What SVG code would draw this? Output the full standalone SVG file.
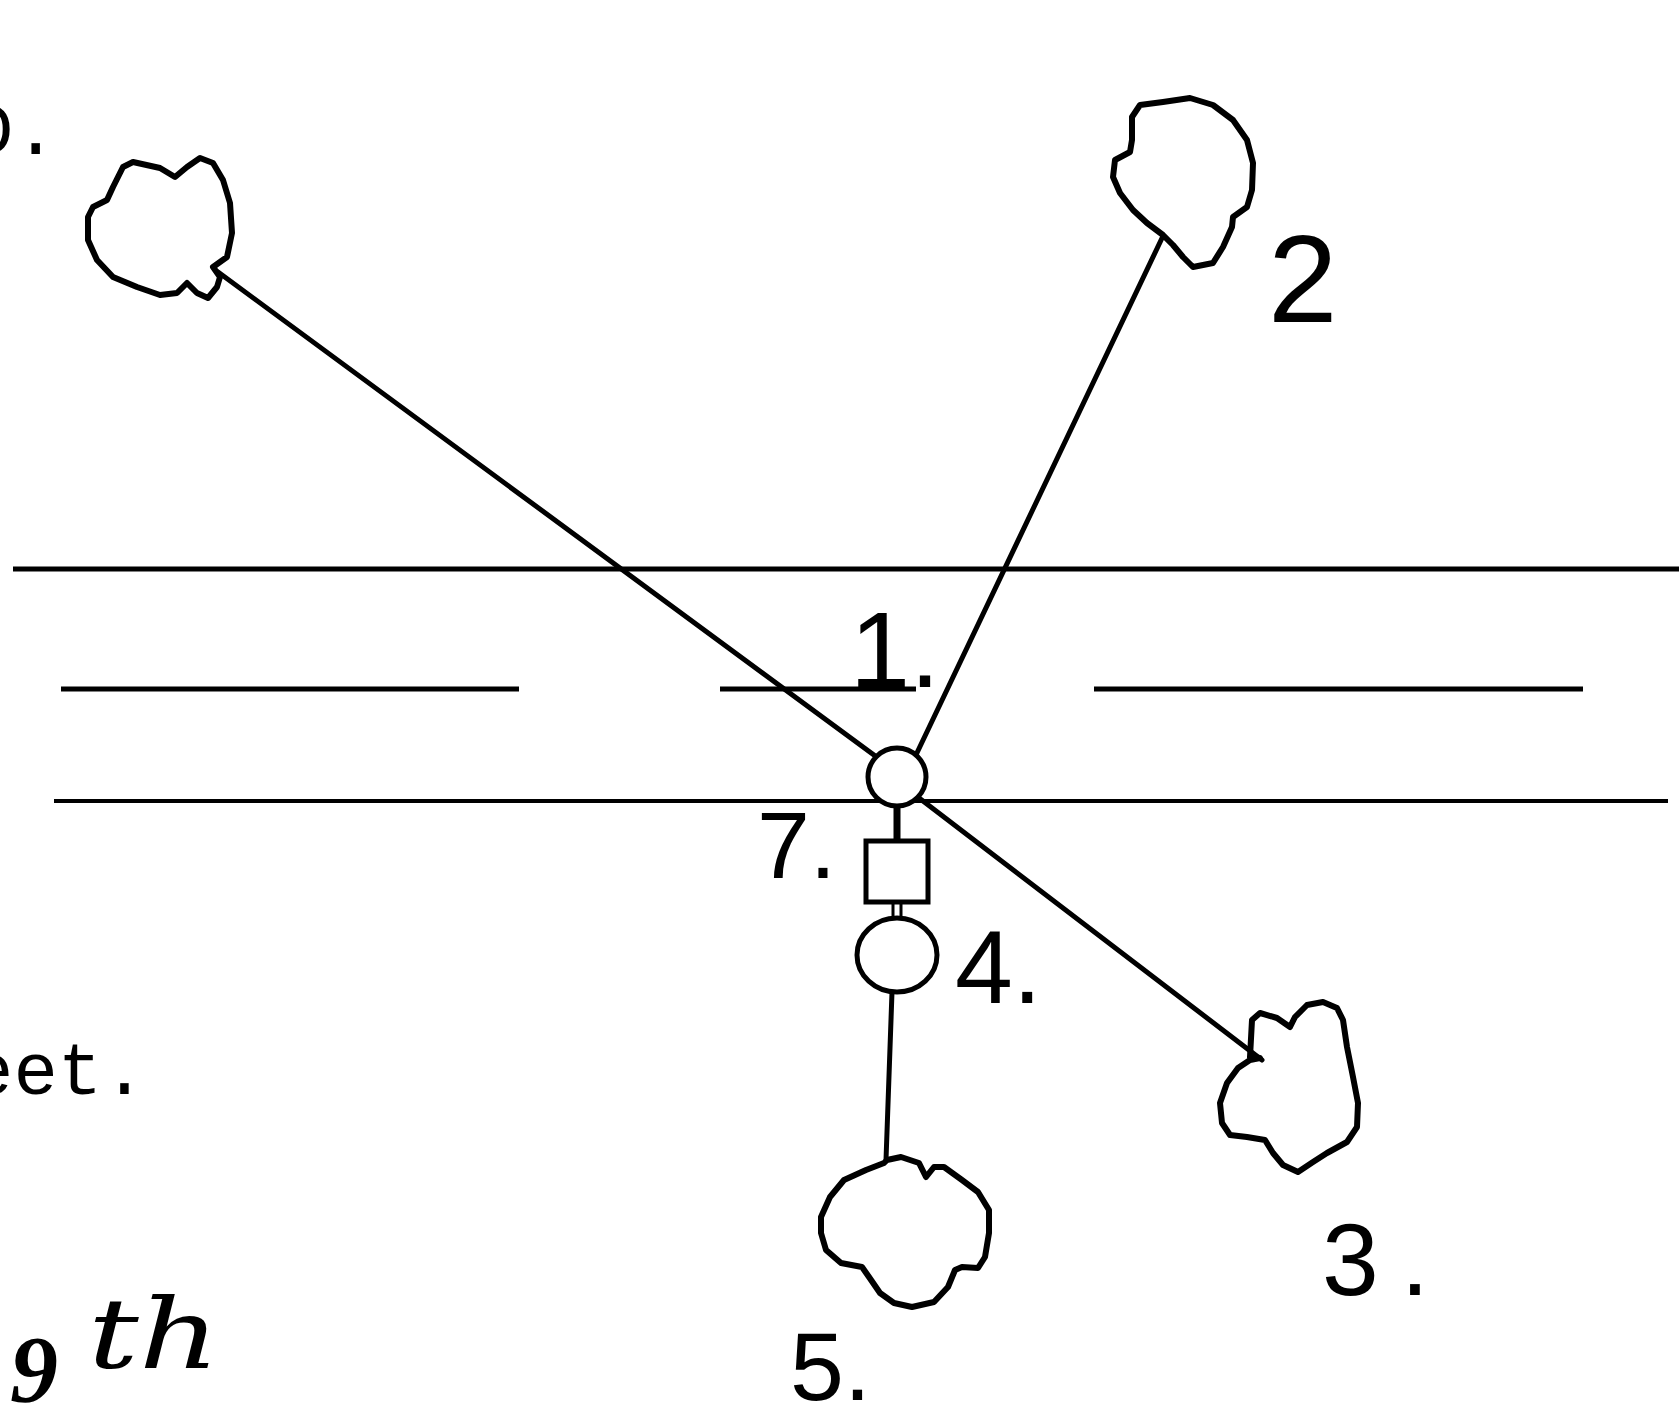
<svg xmlns="http://www.w3.org/2000/svg" width="1679" height="1417" viewBox="0 0 1679 1417">
<style>
.blob{fill:none;stroke:#000;stroke-width:6;stroke-linejoin:round;stroke-linecap:round}
.shape{fill:#fff;stroke:#000;stroke-width:5}
.conn{stroke:#000;stroke-width:5;stroke-linecap:round;fill:none}
.rule{stroke:#000;stroke-width:5}
.lbl{font-family:"Liberation Sans",Arial,sans-serif;fill:#000}
.type{font-family:"Liberation Mono","Courier New",monospace;font-size:74px;fill:#000}
.hand{font-family:"Liberation Serif",serif;font-style:italic;fill:#000}
</style>
<rect width="1679" height="1417" fill="#fff"/>

<g id="rules">
  <line class="rule" x1="13" y1="569" x2="1679" y2="569"/>
  <line class="rule" x1="61" y1="689" x2="519" y2="689"/>
  <line class="rule" x1="720" y1="689" x2="916" y2="689"/>
  <line class="rule" x1="1094" y1="689" x2="1583" y2="689"/>
  <line class="rule" x1="54" y1="801" x2="1668" y2="801" style="stroke-width:4"/>
</g>

<g id="typed-text">
  <text class="type" x="-31" y="154">D.</text>
  <text class="type" x="-31" y="1094">eet.</text>
  <text class="hand" x="10" y="1402" font-size="96" font-weight="bold">9</text>
  <text x="88" y="1368" font-size="98" font-style="italic" font-family="'DejaVu Serif',serif" textLength="132" lengthAdjust="spacingAndGlyphs">th</text>
</g>

<g id="connectors">
  <line class="conn" x1="218" y1="272" x2="878" y2="758"/>
  <line class="conn" x1="906" y1="788" x2="1262" y2="1060"/>
  <line class="conn" x1="1163" y1="236" x2="915" y2="757"/>
  <line class="conn" x1="897" y1="806" x2="897" y2="841" style="stroke-width:7"/>
  <line class="conn" x1="893" y1="902" x2="893" y2="919" style="stroke-width:3"/>
  <line class="conn" x1="901" y1="902" x2="901" y2="919" style="stroke-width:3"/>
  <line class="conn" x1="892" y1="992" x2="886" y2="1160"/>
</g>

<g id="node-6">
  <path class="blob" d="M220,277 L213,267 L227,257 L232,233 L230,203 L223,180 L213,163 L200,158 L187,167 L175,177 L160,168 L133,162 L123,167 L113,187 L107,200 L93,207 L88,217 L88,240 L97,260 L113,277 L137,287 L160,295 L177,293 L187,283 L197,293 L208,298 L217,287 Z"/>
</g>

<g id="node-2">
  <path class="blob" d="M1163,235 L1147,223 L1133,210 L1120,193 L1113,177 L1115,160 L1130,152 L1132,140 L1132,117 L1140,105 L1163,102 L1190,98 L1213,105 L1233,120 L1247,140 L1253,163 L1252,190 L1247,207 L1233,217 L1232,227 L1223,247 L1213,263 L1193,267 L1183,257 L1173,245 Z"/>
  <text class="lbl" x="1268" y="322" font-size="125">2</text>
</g>

<g id="node-3">
  <path class="blob" d="M1260,1058 L1250,1057 L1252,1020 L1260,1013 L1277,1018 L1290,1027 L1295,1017 L1307,1005 L1323,1002 L1337,1008 L1343,1020 L1347,1047 L1353,1077 L1358,1103 L1357,1127 L1347,1142 L1327,1153 L1313,1162 L1298,1172 L1283,1165 L1273,1153 L1265,1140 L1247,1137 L1230,1135 L1222,1123 L1220,1103 L1227,1083 L1238,1068 L1250,1060 Z"/>
  <text class="lbl" x="1322" y="1295" font-size="102">3<tspan dx="22">.</tspan></text>
</g>

<g id="node-1">
  <circle class="shape" cx="897" cy="777" r="29"/>
  <text class="lbl" x="850" y="687" font-size="108">1.</text>
</g>

<g id="node-7">
  <rect class="shape" x="866" y="841" width="62" height="61"/>
  <text class="lbl" x="757" y="878" font-size="95">7.</text>
</g>

<g id="node-4">
  <ellipse class="shape" cx="897" cy="955" rx="40" ry="37"/>
  <text class="lbl" x="955" y="1003" font-size="104">4.</text>
</g>

<g id="node-5">
  <path class="blob" d="M887,1160 L901,1157 L919,1163 L926,1177 L934,1167 L944,1167 L962,1180 L978,1192 L989,1210 L989,1233 L985,1257 L978,1268 L962,1267 L955,1270 L948,1287 L934,1302 L912,1307 L894,1303 L880,1293 L869,1277 L862,1267 L841,1263 L826,1250 L821,1233 L821,1217 L830,1197 L844,1180 L866,1170 L884,1163 Z"/>
  <text class="lbl" x="790" y="1400" font-size="97">5.</text>
</g>
</svg>
